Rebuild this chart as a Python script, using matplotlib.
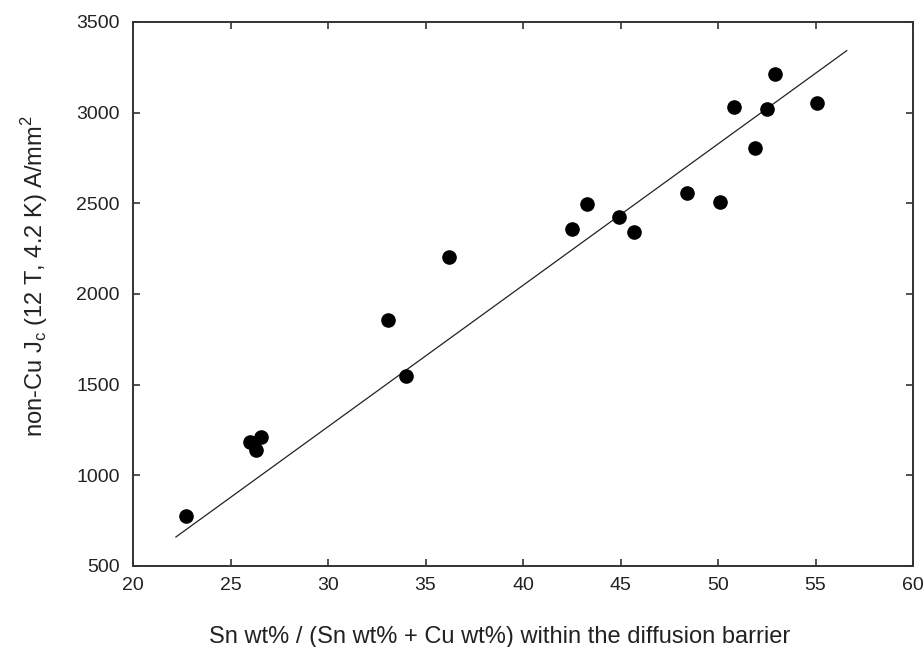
import matplotlib
matplotlib.use("Agg")
import matplotlib.pyplot as plt

plt.rcParams['font.family'] = ['Liberation Sans', 'DejaVu Sans']

# Data
sn_ratio = [22.7, 26.0, 26.3, 26.55, 33.1, 34.0, 36.2, 42.5, 43.3, 44.9,
            45.7, 48.4, 50.1, 50.8, 51.9, 52.5, 52.9, 55.1]
jc = [775, 1185, 1140, 1210, 1855, 1548, 2205, 2357, 2495, 2425,
      2340, 2555, 2506, 3030, 2805, 3022, 3212, 3052]

fit_x = [22.2, 56.6]
fit_y = [660, 3342]

xticks = [20, 25, 30, 35, 40, 45, 50, 55, 60]
yticks = [500, 1000, 1500, 2000, 2500, 3000, 3500]

fig = plt.figure(figsize=(9.23, 6.47), dpi=100)
ax = fig.add_axes([0.1441, 0.1252, 0.8451, 0.8408])

ax.plot(fit_x, fit_y, color='#222222', lw=0.9)
ax.plot(sn_ratio, jc, 'o', color='black', ms=9.5, mec='black')

ax.set_xlim(20, 60)
ax.set_ylim(500, 3500)
ax.set_xticks(xticks)
ax.set_yticks(yticks)
ax.tick_params(direction='in', length=5, width=1.2, colors='#333333',
               top=True, right=True, labelsize=14, pad=9.5)
ax.tick_params(axis='x', pad=8)
for lab in ax.get_xticklabels() + ax.get_yticklabels():
    lab.set_color('#222222')
for s in ax.spines.values():
    s.set_linewidth(1.4)
    s.set_color('#333333')

ax.set_xlabel('Sn wt% / (Sn wt% + Cu wt%) within the diffusion barrier',
              fontsize=17, color='#222222', va='center')
ax.xaxis.set_label_coords(0.47, -0.1305)
ax.set_ylabel('non-Cu J$_\\mathregular{c}$ (12 T, 4.2 K) A/mm$^\\mathregular{2}$',
              fontsize=17, color='#222222', va='center')
ax.yaxis.set_label_coords(-0.126, 0.533)

fig.savefig('out.png', dpi=100)
